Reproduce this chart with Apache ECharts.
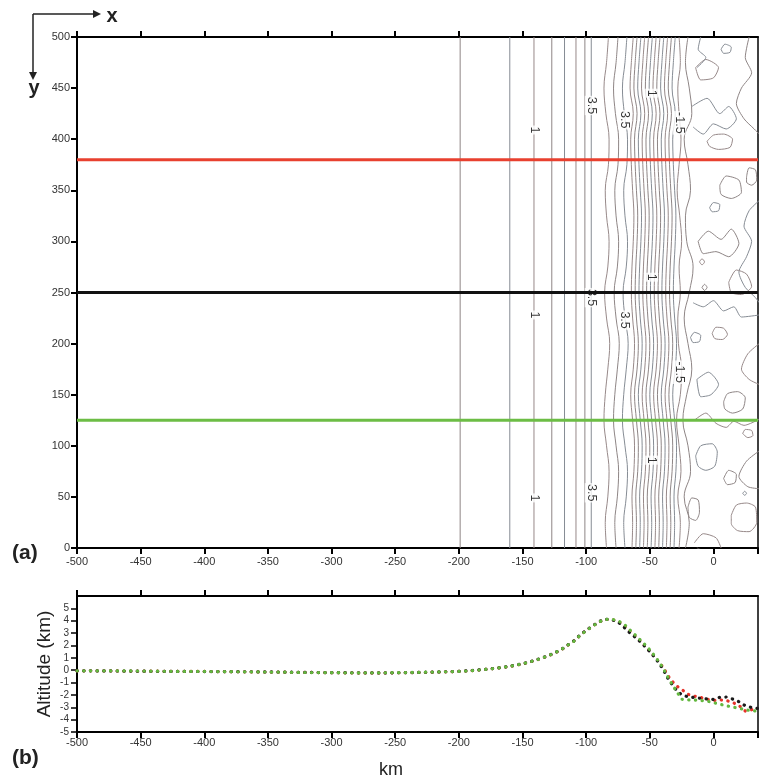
<!DOCTYPE html>
<html><head><meta charset="utf-8">
<script src="https://cdn.jsdelivr.net/npm/echarts@6/dist/echarts.min.js"></script>
<style>html,body{margin:0;padding:0;background:#fff}#c{width:759px;height:783px}</style>
</head><body><div id="c"></div>
<script>
// ---------- data ----------
const xTickValues = [-500,-450,-400,-350,-300,-250,-200,-150,-100,-50,0];
const altTickValues = [-5,-4,-3,-2,-1,0,1,2,3,4,5];

// profile lines (bottom panel)
const profX = [-500,-480,-460,-440,-420,-400,-380,-360,-340,-320,-300,-280,-260,-240,-220,-200,
  -190,-180,-170,-160,-150,-140,-130,-120,
  -115,-110,-105,-100,-95,-90,-85,-80,-75,-70,-65,-60,-55,-50,-45,-40,-35,-30,-25,-20,-15,-10,-5,0,5,10,15,20,25,30,35];
const altRed = [-0.05,-0.05,-0.07,-0.08,-0.1,-0.1,-0.12,-0.14,-0.16,-0.18,-0.2,-0.22,-0.22,-0.2,-0.16,-0.1,
  -0.04,0.05,0.16,0.3,0.5,0.78,1.15,1.62,
  1.98,2.32,2.8,3.2,3.56,3.9,4.1,4.1,3.95,3.6,3.1,2.62,2.1,1.55,0.95,0.3,-0.55,-1.2,-1.55,-1.95,-2.1,-2.2,-2.35,-2.45,-2.4,-2.45,-2.6,-2.85,-3.3,-3.2,-3.15];
const altBlack = [-0.05,-0.06,-0.07,-0.09,-0.1,-0.11,-0.12,-0.13,-0.15,-0.18,-0.2,-0.21,-0.22,-0.2,-0.15,-0.1,
  -0.03,0.06,0.17,0.32,0.52,0.8,1.16,1.64,
  2.0,2.34,2.82,3.22,3.58,3.92,4.12,4.08,3.9,3.45,2.95,2.55,2.05,1.5,0.9,0.15,-0.8,-1.5,-2.0,-2.15,-2.22,-2.28,-2.33,-2.36,-2.2,-2.17,-2.33,-2.55,-2.88,-3.02,-3.1];
const altGreen = [-0.05,-0.05,-0.06,-0.08,-0.1,-0.1,-0.12,-0.14,-0.16,-0.19,-0.2,-0.22,-0.21,-0.19,-0.15,-0.1,
  -0.04,0.05,0.16,0.31,0.51,0.79,1.15,1.63,
  1.99,2.31,2.79,3.19,3.55,3.9,4.1,4.12,4.0,3.7,3.2,2.7,2.2,1.65,1.0,0.25,-0.7,-1.55,-2.35,-2.4,-2.42,-2.46,-2.5,-2.62,-2.75,-2.88,-2.98,-3.08,-3.2,-3.28,-3.3];

// section lines (top panel)
const sectionY = { red: 380, black: 250, green: 125 };

// contour lines (top panel)
const contourY = [0,25,50,75,100,125,150,175,200,225,250,275,300,325,350,375,400,425,450,475,500];
const straightX = [-199,-160,-141,-127,-117,-108,-101,-96];
const wavyBaseX = [-84,-76.5,-69.5];
const wiggleA = [0,-1,1,2,0,-2,-1,1,2.5,0,-1.5,1,2,0,-1,1.5,2,-0.5,-2,0,1.5];
const denseBaseX = [-64,-61,-58,-55,-52,-49,-46,-43,-40,-37,-34,-31];
const wiggleB = [0,0.5,0,1.5,2,0.5,-1,1,2,0.5,-0.5,0,1,1.5,0.5,-0.5,-1,1,-1.5,-0.5,1];
const lineM15X = [-27,-26,-28,-25.5,-27,-29,-26,-25,-27.5,-28,-26,-27,-25,-26.5,-28.5,-27,-25.5,-27,-28,-26,-27];
const boundaryX = [-22,-19,-23,-18,-20,-24,-21,-17,-20,-23,-19,-16,-21,-22,-18,-20,-23,-17,-19,-22,-20];
const blobs = [
  [[6,488],[9,493],[14,490],[13,485],[8,484],[6,488]],
  [[-5,398],[0,404],[8,405],[15,400],[13,392],[4,390],[-3,393],[-5,398]],
  [[26,363],[28,372],[33,370],[34,360],[30,355],[26,358],[26,363]],
  [[-3,333],[0,338],[5,336],[4,330],[-1,329],[-3,333]],
  [[-11,280],[-9,283],[-7,280],[-9,277],[-11,280]],
  [[-9,255],[-7,258],[-5,255],[-7,252],[-9,255]],
  [[-18,206],[-15,211],[-10,208],[-11,202],[-16,201],[-18,206]],
  [[-1,210],[2,216],[8,215],[11,209],[7,204],[1,205],[-1,210]],
  [[8,143],[11,151],[19,153],[25,147],[23,136],[15,132],[9,136],[8,143]],
  [[-14,90],[-10,100],[-1,102],[3,94],[1,80],[-6,76],[-12,80],[-14,90]],
  [[23,112],[25,116],[30,115],[31,110],[27,108],[23,112]],
  [[-20,40],[-17,49],[-12,47],[-11,35],[-14,27],[-19,30],[-20,40]],
  [[23,53.5],[24.5,55.5],[26,53.5],[24.5,51.5],[23,53.5]],
  [[14,32],[18,42],[26,44],[33,40],[34,25],[28,16],[19,17],[14,24],[14,32]],
  [[28,500],[25,480],[30,465],[22,450],[18,435],[24,420],[32,410],[36,405]],
  [[36,340],[28,330],[24,315],[30,300],[26,285],[20,270],[25,255],[33,245],[36,240]],
  [[36,200],[27,190],[22,175],[28,165],[36,160]],
  [[36,95],[26,85],[20,70],[27,60],[36,58]],
  [[-17,432],[-5,440],[5,425],[12,432],[18,420],[10,410],[0,415],[-8,405],[-16,412]],
  [[-14,470],[-6,478],[4,470],[0,460],[-10,458],[-14,470]],
  [[-12,300],[-4,310],[6,302],[14,312],[20,298],[12,285],[2,290],[-8,288],[-12,300]],
  [[-13,165],[-4,172],[4,160],[-2,150],[-10,148],[-13,165]],
  [[-15,5],[-8,14],[2,10],[6,0]],
  [[-13,0],[-9,-2]],
  [[-10,500],[-12,488],[-6,480],[-13,470]],
  [[12,260],[18,272],[26,268],[30,256],[22,248],[14,250],[12,260]],
  [[5,355],[10,364],[20,360],[22,348],[14,342],[6,346],[5,355]],
  [[-16,240],[-8,236],[0,242],[8,232],[16,236],[22,226],[36,228]],
  [[-15,125],[-6,132],[2,122],[10,118],[16,124],[24,120],[36,126]],
  [[8,68],[12,76],[18,72],[17,64],[11,62],[8,68]]
];
const contourLabels = [
  [-141,409,'1'],[-141,228,'1'],[-141,49,'1'],
  [-96,433,'3.5'],[-96,245,'3.5'],[-96,54,'3.5'],
  [-70,419,'3.5'],[-70,223,'3.5'],
  [-48.6,445,'1'],[-48.6,265,'1'],[-48.6,86,'1'],
  [-27,416,'-1.5'],[-27,172,'-1.5']
];

// ---------- chart ----------
const contourColors = ['#8e8585','#868c94','#978989'];
const series = [];
let ci = 0;
function contour(data, smooth) {
  series.push({type:'line', xAxisIndex:0, yAxisIndex:0, data, symbol:'none', showSymbol:false,
    smooth: smooth || false, silent:true, z:2,
    lineStyle:{color: contourColors[(ci++) % 3], width:1}});
}
straightX.forEach(x => contour([[x,0],[x,500]]));
wavyBaseX.forEach(x => contour(contourY.map((y,i)=>[x + wiggleA[i], y]), 0.4));
denseBaseX.forEach(x => contour(contourY.map((y,i)=>[x + wiggleB[i], y]), 0.4));
contour(contourY.map((y,i)=>[lineM15X[i], y]), 0.4);
contour(contourY.map((y,i)=>[boundaryX[i], y]), 0.4);
blobs.forEach(b => contour(b, 0.25));

series.push({type:'scatter', xAxisIndex:0, yAxisIndex:0, data: contourLabels, symbolSize:1, silent:true, z:5,
  itemStyle:{color:'rgba(0,0,0,0)'},
  label:{show:true, position:'inside', rotate:-90, formatter: p => p.data[2], color:'#000',
    fontSize:12.5, fontFamily:'Liberation Sans', backgroundColor:'#fff', padding:[0,1]}});

[['red','#e8402f'],['black','#111111'],['green','#6cbd45']].forEach(([k,c]) => {
  series.push({type:'line', xAxisIndex:0, yAxisIndex:0, data:[[-500,sectionY[k]],[35,sectionY[k]]],
    symbol:'none', silent:true, z:6, lineStyle:{color:c, width:3}});
});

[['#e6332a',altRed],['#1a1a1a',altBlack],['#64b840',altGreen]].forEach(([c,arr]) => {
  series.push({type:'line', xAxisIndex:2, yAxisIndex:2, data: profX.map((x,i)=>[x,arr[i]]),
    symbol:'none', silent:true, z:3,
    lineStyle:{color:c, width:3.2, type:[0.3,6.4], cap:'round'}});
});

const lab = {color:'#333', fontSize:11, fontFamily:'Liberation Sans'};
const axLine = {show:true, onZero:false, lineStyle:{color:'#000', width:2}};
function xBottom(grid, margin) {
  return {type:'value', gridIndex:grid, position:'bottom', min:-500, max:35, interval:50,
    axisLine:axLine, axisTick:{show:true, length:6, lineStyle:{color:'#000', width:2}},
    axisLabel:Object.assign({margin, customValues:xTickValues}, lab), splitLine:{show:false}};
}
function xTop(grid) {
  return {type:'value', gridIndex:grid, position:'top', min:-500, max:35, interval:50,
    axisLine:axLine, axisTick:{show:true, length:6, lineStyle:{color:'#000', width:2}, customValues:xTickValues},
    axisLabel:{show:false}, splitLine:{show:false}};
}
function yRight(grid, min, max) {
  return {type:'value', gridIndex:grid, position:'right', min, max,
    axisLine:{show:true, onZero:false, lineStyle:{color:'#000', width:1.5}},
    axisTick:{show:false}, axisLabel:{show:false}, splitLine:{show:false}};
}

const option = {
  animation:false,
  backgroundColor:'#fff',
  grid:[
    {left:77, top:37, width:681, height:511},
    {left:77, top:596, width:681, height:136}
  ],
  xAxis:[ xBottom(0, 8), xTop(0), xBottom(1, 5), xTop(1) ],
  yAxis:[
    {type:'value', gridIndex:0, min:0, max:500, interval:50, axisLine:axLine,
      axisTick:{show:true, length:6, lineStyle:{color:'#000', width:2}},
      axisLabel:Object.assign({margin:7}, lab), splitLine:{show:false}},
    yRight(0, 0, 500),
    {type:'value', gridIndex:1, min:-5, max:6, interval:1, axisLine:axLine,
      axisTick:{show:true, length:6, lineStyle:{color:'#000', width:1.5}, customValues:altTickValues},
      axisLabel:Object.assign({margin:8}, lab, {fontSize:10, customValues:altTickValues}), splitLine:{show:false}},
    yRight(1, -5, 6)
  ],
  graphic:[
    {type:'text', left:12, top:543, style:{text:'(a)', font:'bold 21px "Liberation Sans"', fill:'#222'}},
    {type:'text', left:12, top:748, style:{text:'(b)', font:'bold 21px "Liberation Sans"', fill:'#222'}},
    {type:'text', x:391, y:770, style:{text:'km', font:'18px "Liberation Sans"', fill:'#222', align:'center', verticalAlign:'middle'}},
    {type:'text', x:45, y:664, rotation:Math.PI/2, style:{text:'Altitude (km)', font:'19px "Liberation Sans"', fill:'#222', align:'center', verticalAlign:'middle'}},
    {type:'line', shape:{x1:33, y1:14, x2:94, y2:14}, style:{stroke:'#222', lineWidth:1.5}},
    {type:'polygon', shape:{points:[[101,14],[93,10],[93,18]]}, style:{fill:'#222'}},
    {type:'line', shape:{x1:33, y1:14, x2:33, y2:73}, style:{stroke:'#222', lineWidth:1.5}},
    {type:'polygon', shape:{points:[[33,80],[29,72],[37,72]]}, style:{fill:'#222'}},
    {type:'text', x:112, y:16, style:{text:'x', font:'bold 20px "Liberation Sans"', fill:'#222', align:'center', verticalAlign:'middle'}},
    {type:'text', x:34, y:88, style:{text:'y', font:'bold 20px "Liberation Sans"', fill:'#222', align:'center', verticalAlign:'middle'}}
  ],
  series
};
echarts.init(document.getElementById('c'), null, {renderer:'canvas'}).setOption(option);
</script>
</body></html>
